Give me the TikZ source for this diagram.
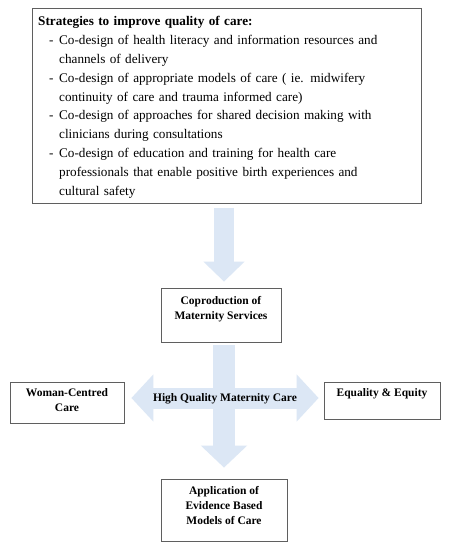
\documentclass[tikz,border=0pt]{standalone}
\usepackage{fontspec}
\setmainfont{Liberation Serif}
\usetikzlibrary{arrows.meta}
\definecolor{arrowblue}{RGB}{220,231,245}
\definecolor{boxgray}{RGB}{95,95,95}
\newcommand{\stitem}{\par\hangindent=21pt\hangafter=1\hspace*{11pt}\makebox[10pt][l]{-}}
\newcommand{\brk}{\hfil\break}
\begin{document}
\begin{tikzpicture}[x=1pt,y=-1pt,
  box/.style={draw=boxgray, line width=0.8pt, inner sep=0pt, fill=white},
  btxt/.style={font=\fontsize{11.5}{14.8}\selectfont\bfseries, align=center, inner sep=0pt, anchor=north},
  toptxt/.style={font=\fontsize{13.2}{18.8}\selectfont, text width=382pt, inner sep=0pt, anchor=north west}]
\useasboundingbox (0,0) rectangle (450,550);
\fill[white] (0,0) rectangle (450,550);

% boxes
\node[box, anchor=north west, minimum width=389pt, minimum height=195pt] (top) at (32,8) {};
\node[toptxt] (toptext) at (38,16.5) {\parindent=0pt
{\bfseries Strategies to improve quality of care:}
\stitem Co-design of health literacy and information resources and\brk channels of delivery
\stitem Co-design of appropriate models of care ( ie. midwifery\brk continuity of care and trauma informed care)
\stitem Co-design of approaches for shared decision making with\brk clinicians during consultations
\stitem Co-design of education and training for health care\brk professionals that enable positive birth experiences and\brk cultural safety\par};

\node[box, minimum width=120pt, minimum height=54pt] (cop) at (221,315) {};
\node[box, minimum width=114pt, minimum height=41pt] (wc) at (67,402.5) {};
\node[box, minimum width=116pt, minimum height=37pt] (eq) at (382,400.5) {};
\node[box, minimum width=126pt, minimum height=62pt] (app) at (224,510) {};

\node[btxt] (coptxt) at (221,296.5) {Coproduction of\\Maternity Services};
\node[btxt] (wctxt) at (67,388.5) {Woman-Centred\\Care};
\node[btxt] (eqtxt) at (382,388.5) {Equality \& Equity};
\node[btxt] (apptxt) at (224,486.5) {Application of\\Evidence Based\\Models of Care};

% block arrows
\coordinate (mid) at (224,398);
\draw[draw=arrowblue, fill=arrowblue, line width=20pt,
  -{Triangle[width=40pt,length=20pt]}]
  ([yshift=-4pt]top.south -| mid) -- ([yshift=6pt]cop.north -| mid);
\draw[draw=arrowblue, fill=arrowblue, line width=22pt,
  -{Triangle[width=45pt,length=22pt]}]
  ([yshift=-3pt]cop.south -| mid) -- ([yshift=11pt]app.north -| mid);
\draw[draw=arrowblue, fill=arrowblue, line width=21pt,
  {Triangle[width=46pt,length=22pt]}-{Triangle[width=46pt,length=22pt]}]
  ([xshift=7pt]wc.east |- mid) -- ([xshift=-5pt]eq.west |- mid);

\node[btxt, anchor=base] (hq) at (225,401.5) {High Quality Maternity Care};
\end{tikzpicture}
\end{document}
